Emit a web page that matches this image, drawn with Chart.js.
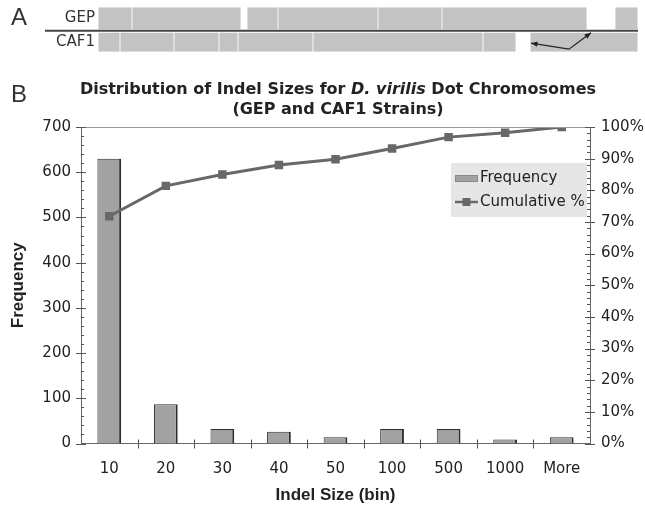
<!DOCTYPE html>
<html>
<head>
<meta charset="utf-8">
<script src="https://cdn.jsdelivr.net/npm/chart.js@4"></script>
<style>
    body { margin: 0; background: #fff; }
    #wrap { position: relative; width: 645px; height: 508px; overflow: hidden; }
    canvas { position: absolute; left: 0; }
    .panel-label { position: absolute; left: 11px; font: 24px "Liberation Sans", Arial, sans-serif; color: #333; }
</style>
</head>
<body>
<div id="wrap">
    <canvas id="indel-chart" width="645" height="508" style="top:0"></canvas>
    <canvas id="strain-map" width="645" height="80" style="top:-10px"></canvas>
    <div class="panel-label" style="top:3px">A</div>
    <div class="panel-label" style="top:80px">B</div>
</div>
<script>
// panel B data
const bins = ["10", "20", "30", "40", "50", "100", "500", "1000", "More"];
const frequency = [630, 87, 32, 26, 14, 32, 32, 9, 14];
const cumulativePct = [71.8, 81.4, 85.0, 88.0, 89.8, 93.2, 96.8, 98.2, 100];

// panel A data (segment start/end along the dot chromosome, arbitrary units)
const strains = ["GEP", "CAF1"];
const gepSegments = [[0, 34], [34, 143], [149, 180], [180, 280], [280, 344], [344, 489], [517, 540]];
const caf1Segments = [[0, 22], [22, 76], [76, 121], [121, 140], [140, 215], [215, 385], [385, 418], [432, 540]];
const arrowX = [432, 471, 493];

const TEXT = "#222";
const FONT = "'DejaVu Sans', Verdana, sans-serif";

// ---------- panel A ----------
const strainLine = {
    id: "strainLine",
    afterDraw(chart) {
        const { ctx, chartArea } = chart;
        const x = chart.scales.x, y = chart.scales.y;
        const midY = (y.getPixelForValue(0) + y.getPixelForValue(1)) / 2 + 0.5;
        ctx.save();
        ctx.strokeStyle = "#444";
        ctx.lineWidth = 2;
        ctx.beginPath();
        ctx.moveTo(45, midY);
        ctx.lineTo(chartArea.right, midY);
        ctx.stroke();

        // arrow between the two gaps
        const p0 = { x: x.getPixelForValue(arrowX[0]) + 1, y: y.getPixelForValue(1) + 1 };
        const p1 = { x: x.getPixelForValue(arrowX[1]), y: y.getPixelForValue(1) + 7 };
        const p2 = { x: x.getPixelForValue(arrowX[2]), y: midY + 2 };
        ctx.strokeStyle = "#222";
        ctx.fillStyle = "#222";
        ctx.lineWidth = 1.2;
        ctx.beginPath();
        ctx.moveTo(p0.x, p0.y);
        ctx.lineTo(p1.x, p1.y);
        ctx.lineTo(p2.x, p2.y);
        ctx.stroke();
        const head = (from, to) => {
            const a = Math.atan2(to.y - from.y, to.x - from.x);
            ctx.beginPath();
            ctx.moveTo(to.x, to.y);
            ctx.lineTo(to.x - 7 * Math.cos(a - 0.4), to.y - 7 * Math.sin(a - 0.4));
            ctx.lineTo(to.x - 7 * Math.cos(a + 0.4), to.y - 7 * Math.sin(a + 0.4));
            ctx.closePath();
            ctx.fill();
        };
        head(p1, p0);
        head(p1, p2);
        ctx.restore();
    }
};

const segStyle = {
    backgroundColor: "#c3c3c3",
    borderColor: "#dedede",
    borderWidth: { left: 1, right: 1, top: 0, bottom: 0 },
    borderSkipped: false,
    grouped: false,
    categoryPercentage: 1
};

new Chart(document.getElementById("strain-map"), {
    type: "bar",
    data: {
        labels: strains,
        datasets: [
            { ...segStyle, barPercentage: 0.93, data: gepSegments.map(s => ({ y: "GEP", x: s })) },
            { ...segStyle, barPercentage: 0.82, data: caf1Segments.map(s => ({ y: "CAF1", x: s })) }
        ]
    },
    options: {
        indexAxis: "y",
        responsive: false,
        animation: false,
        layout: { padding: { top: 16.5, bottom: 16, right: 7, left: 0 } },
        scales: {
            x: { display: false, min: 0, max: 540 },
            y: {
                grid: { display: false, drawTicks: false },
                border: { display: false },
                ticks: { color: "#333", padding: 3, font: { family: FONT, size: 15 } },
                afterFit: s => { s.width = 98; }
            }
        },
        plugins: { legend: { display: false }, tooltip: { enabled: false } }
    },
    plugins: [strainLine]
});

// ---------- panel B ----------
const chartDecor = {
    id: "chartDecor",
    afterDraw(chart) {
        const { ctx, chartArea } = chart;
        const { left, right, top, bottom } = chartArea;
        const yL = chart.scales.y, yR = chart.scales.y1, x = chart.scales.x;
        ctx.save();

        // frame top line
        ctx.strokeStyle = "#9a9a9a";
        ctx.lineWidth = 1;
        ctx.beginPath();
        ctx.moveTo(left, top + 0.5);
        ctx.lineTo(right, top + 0.5);
        ctx.stroke();

        ctx.strokeStyle = "#555";
        ctx.beginPath();
        for (let v = 0; v <= 700; v += 20) {
            const py = Math.round(yL.getPixelForValue(v)) + 0.5;
            const major = v % 100 === 0;
            ctx.moveTo(major ? left - 5 : left, py);
            ctx.lineTo(major ? left + 5 : left + 3, py);
        }
        for (let v = 0; v <= 100; v += 2) {
            const py = Math.round(yR.getPixelForValue(v)) + 0.5;
            const major = v % 10 === 0;
            ctx.moveTo(major ? right - 5 : right - 3, py);
            ctx.lineTo(major ? right + 5 : right, py);
        }
        for (let i = 1; i < bins.length; i++) {
            const px = Math.round((x.getPixelForValue(i - 1) + x.getPixelForValue(i)) / 2) + 0.5;
            ctx.moveTo(px, bottom - 4);
            ctx.lineTo(px, bottom + 5);
        }
        ctx.stroke();

        // title with italic species name
        const parts = [
            ["Distribution of Indel Sizes for ", "bold"],
            ["D. virilis", "italic bold"],
            [" Dot Chromosomes", "bold"]
        ];
        ctx.fillStyle = TEXT;
        ctx.textBaseline = "middle";
        let total = 0;
        parts.forEach(p => { ctx.font = `${p[1]} 16px ${FONT}`; total += ctx.measureText(p[0]).width; });
        let tx = 338 - total / 2;
        parts.forEach(p => {
            ctx.font = `${p[1]} 16px ${FONT}`;
            ctx.textAlign = "left";
            ctx.fillText(p[0], tx, 90);
            tx += ctx.measureText(p[0]).width;
        });
        ctx.font = `bold 16px ${FONT}`;
        ctx.textAlign = "center";
        ctx.fillText("(GEP and CAF1 Strains)", 338, 110);

        // legend box inside the plot
        const bar = chart.data.datasets[1], line = chart.data.datasets[0];
        ctx.fillStyle = "#e6e6e6";
        ctx.fillRect(451, 163, 136, 54);
        ctx.fillStyle = bar.backgroundColor;
        ctx.strokeStyle = "#888";
        ctx.fillRect(455, 175, 23, 7);
        ctx.strokeRect(455.5, 175.5, 22, 6);
        ctx.strokeStyle = line.borderColor;
        ctx.lineWidth = 2.5;
        ctx.beginPath();
        ctx.moveTo(455, 202);
        ctx.lineTo(478, 202);
        ctx.stroke();
        ctx.fillStyle = line.pointBackgroundColor;
        ctx.fillRect(462.5, 198, 8, 8);
        ctx.fillStyle = TEXT;
        ctx.font = `15px ${FONT}`;
        ctx.textAlign = "left";
        ctx.fillText("Frequency", 480, 178);
        ctx.fillText("Cumulative %", 480, 202);
        ctx.restore();
    }
};

new Chart(document.getElementById("indel-chart"), {
    data: {
        labels: bins,
        datasets: [
            {
                type: "line",
                label: "Cumulative %",
                data: cumulativePct,
                yAxisID: "y1",
                borderColor: "#686868",
                borderWidth: 3,
                pointStyle: "rect",
                pointRadius: 6,
                pointBackgroundColor: "#686868",
                pointBorderWidth: 0,
                tension: 0,
                order: 1
            },
            {
                type: "bar",
                label: "Frequency",
                data: frequency,
                yAxisID: "y",
                backgroundColor: "#a2a2a2",
                borderColor: "#2e2e2e",
                borderWidth: { top: 1, left: 1, right: 2, bottom: 0 },
                borderSkipped: false,
                barPercentage: 0.42,
                categoryPercentage: 1,
                order: 2
            }
        ]
    },
    options: {
        responsive: false,
        animation: false,
        layout: { padding: { top: 127, left: 0, right: 0, bottom: 0 } },
        scales: {
            x: {
                grid: { display: false, drawTicks: false },
                border: { display: true, color: "#666", width: 1 },
                ticks: { color: TEXT, padding: 17, font: { family: FONT, size: 15 } },
                title: {
                    display: true,
                    text: "Indel Size (bin)",
                    color: TEXT,
                    padding: { top: 4, bottom: 2 },
                    font: { family: "'Liberation Sans', Arial, sans-serif", size: 17, weight: "bold" }
                },
                afterFit: s => { s.height = 64.5; }
            },
            y: {
                position: "left",
                min: 0,
                max: 700,
                ticks: { stepSize: 100, color: TEXT, padding: 10, font: { family: FONT, size: 15 } },
                grid: { display: false, drawTicks: false },
                border: { display: true, color: "#666", width: 1 },
                title: {
                    display: true,
                    text: "Frequency",
                    color: TEXT,
                    padding: { top: 8, bottom: 0 },
                    font: { family: "'Liberation Sans', Arial, sans-serif", size: 17, weight: "bold" }
                },
                afterFit: s => { s.width = 81; }
            },
            y1: {
                position: "right",
                min: 0,
                max: 100,
                ticks: { stepSize: 10, color: TEXT, padding: 11, font: { family: FONT, size: 15 }, callback: v => v + "%" },
                grid: { display: false, drawTicks: false },
                border: { display: true, color: "#666", width: 1 },
                afterFit: s => { s.width = 55; }
            }
        },
        plugins: { legend: { display: false }, tooltip: { enabled: false } }
    },
    plugins: [chartDecor]
});
</script>
</body>
</html>
